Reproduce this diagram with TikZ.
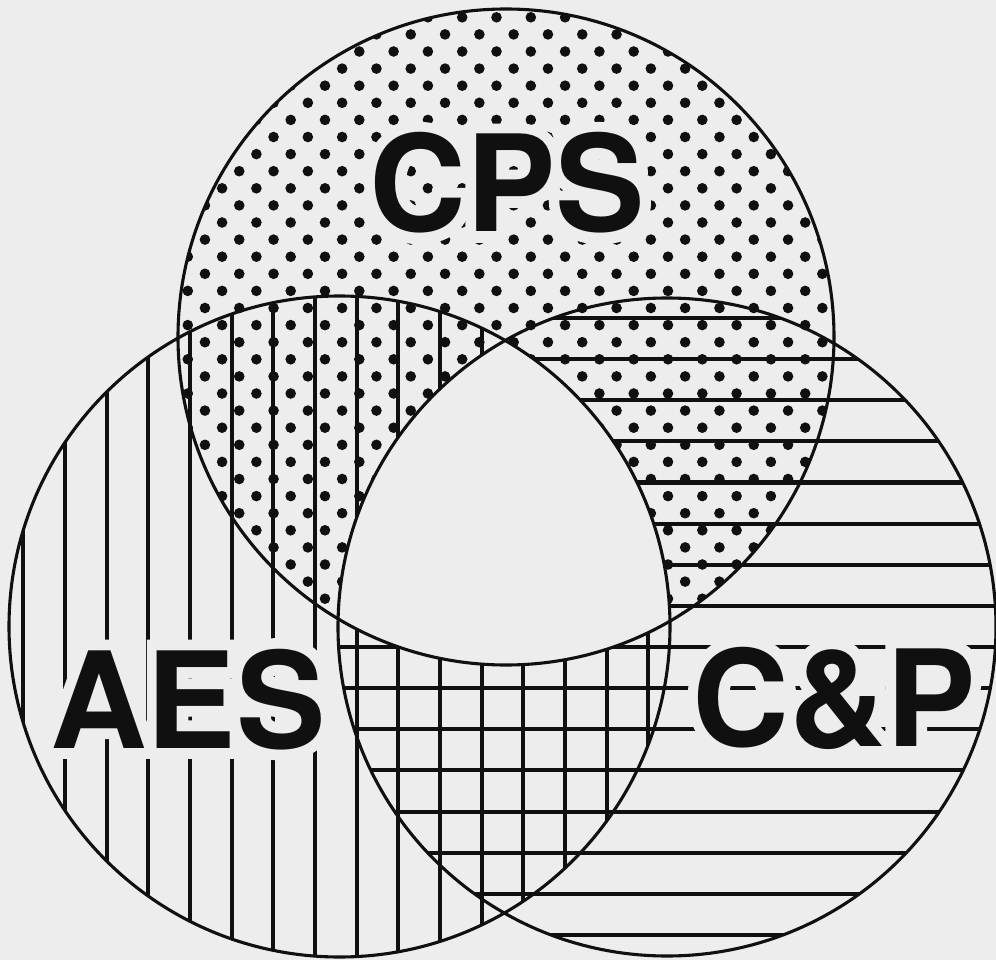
\documentclass[tikz,border=0pt]{standalone}
\usepackage{fontspec}
\setmainfont{TeX Gyre Heros}
\newfontfamily\halofont[FakeBold=16]{TeX Gyre Heros Bold}
\usetikzlibrary{positioning}
\definecolor{paper}{HTML}{EDEDED}
\definecolor{ink}{HTML}{101010}
\tikzset{
  ring/.style={draw=ink, line width=3.1pt},
  hatch/.style={draw=ink, line width=4.1pt},
  speck/.style={fill=ink},
  tag/.style={font=\fontsize{134}{134}\selectfont\bfseries, text=ink,
    inner sep=0pt, anchor=base}
}
% paper-coloured halo set under a label
\newcommand\knockout[1]{\rlap{\halofont\mdseries\color{paper}#1}#1}

\begin{document}
\begin{tikzpicture}[x=1pt,y=-1pt]

\fill[paper] (0,0) rectangle (996,960);
\useasboundingbox (0,0) rectangle (996,960);

% Centres of the three sets.
\coordinate (cpsc) at (506,337);
\coordinate (aesc) at (339.5,626.5);
\coordinate (cpc) at (667,627);

% CPS: staggered dot screen.
\begin{scope}
  \clip (cpsc) circle (328);
  \foreach \r in {0,...,38}{
    \pgfmathsetmacro{\yy}{17.3+17.1*\r}
    \pgfmathsetmacro{\xo}{496.5-17.15*mod(\r,2)}
    \foreach \k in {-10,...,10}
      \fill[speck] (\xo+34.3*\k,\yy) circle (5.3);
  }
\end{scope}

% AES: vertical rules.
\begin{scope}
  \clip (aesc) circle (330.5);
  \foreach \k in {0,...,15}
    \draw[hatch] (23.3+41.67*\k,290) -- (23.3+41.67*\k,962);
\end{scope}

% C&P: horizontal rules.
\begin{scope}
  \clip (cpc) circle (329);
  \foreach \k in {0,...,15}
    \draw[hatch] (330,318+41.13*\k) -- (1000,318+41.13*\k);
\end{scope}

% Common core of all three is left blank.
\begin{scope}
  \clip (cpsc) circle (328);
  \clip (aesc) circle (330.5);
  \fill[paper] (cpc) circle (329);
\end{scope}

\draw[ring] (cpsc) circle (328);
\draw[ring] (aesc) circle (330.5);
\draw[ring] (cpc) circle (329);

% Labels, knocked out of the screens.
\node[tag] (cps) at (507,232) {\knockout{CPS}};
\node[tag] (aes) at (188,748) {\knockout{AES}};
\node[tag] (cp) at (834,746) {\knockout{C\&P}};

\end{tikzpicture}
\end{document}
